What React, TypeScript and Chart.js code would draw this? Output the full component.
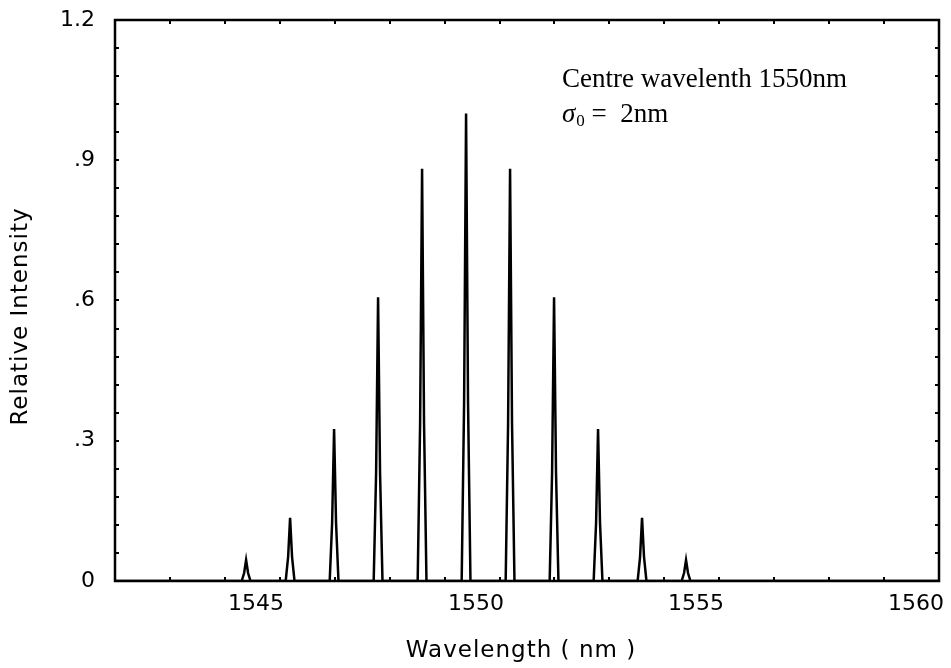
import React, { useEffect, useRef } from "react";
import { Chart, registerables } from "chart.js";

Chart.register(...registerables);

// ---- data ----
const peakWavelengths = [1545, 1546, 1547, 1548, 1549, 1550, 1551, 1552, 1553, 1554, 1555];
const peakIntensities = [0.045, 0.135, 0.325, 0.607, 0.882, 1.0, 0.882, 0.607, 0.325, 0.135, 0.045];
const xTickValues = [1545, 1550, 1555, 1560];
const yTickValues = [0, 0.3, 0.6, 0.9, 1.2];
const yTickLabels = ["0", ".3", ".6", ".9", "1.2"];
const annotationLine1 = "Centre wavelenth 1550nm";
const annotationSigma = "σ";
const annotationSigmaSub = "0";
const annotationLine2Rest = " =  2nm";
const xTitle = "Wavelength ( nm )";
const yTitle = "Relative Intensity";

// axis ranges
const X_MIN = 1542.02;
const X_MAX = 1560.75;
const Y_MIN = 0;
const Y_MAX = 1.2;
const X_MINOR_DIVISIONS = 15;
const Y_MINOR_STEP = 0.06;

// spike profile (shape of each line in nm / fraction of height)
const SPIKE_HALF_BASE = 0.1;
const SPIKE_HALF_MID = 0.045;
const SPIKE_MID_FRAC = 0.38;

// annotation anchor (data coords)
const ANNOT_X = 1552.18;
const ANNOT_Y = 1.057;

const TITLE_FONT = "23px 'DejaVu Sans'";

function buildLine() {
  const pts: { x: number; y: number }[] = [{ x: X_MIN, y: 0 }];
  peakWavelengths.forEach((c, i) => {
    const h = peakIntensities[i];
    pts.push(
      { x: c - SPIKE_HALF_BASE, y: 0 },
      { x: c - SPIKE_HALF_MID, y: SPIKE_MID_FRAC * h },
      { x: c, y: h },
      { x: c + SPIKE_HALF_MID, y: SPIKE_MID_FRAC * h },
      { x: c + SPIKE_HALF_BASE, y: 0 }
    );
  });
  pts.push({ x: X_MAX, y: 0 });
  return pts;
}

const framePlugin = {
  id: "frameTicks",
  afterDatasetsDraw(chart: any) {
    const { ctx, chartArea: a, scales } = chart;
    const x = scales.x;
    const y = scales.y;
    ctx.save();
    ctx.strokeStyle = "#000";
    ctx.lineWidth = 2;
    ctx.beginPath();
    for (let i = 1; i < X_MINOR_DIVISIONS; i++) {
      const v = X_MIN + (i * (X_MAX - X_MIN)) / X_MINOR_DIVISIONS;
      const px = Math.round(x.getPixelForValue(v));
      ctx.moveTo(px, a.top);
      ctx.lineTo(px, a.top + 4);
      ctx.moveTo(px, a.bottom);
      ctx.lineTo(px, a.bottom - 4);
    }
    for (let v = Y_MINOR_STEP; v < Y_MAX - 1e-6; v += Y_MINOR_STEP) {
      const py = Math.round(y.getPixelForValue(v));
      ctx.moveTo(a.left, py);
      ctx.lineTo(a.left + 4, py);
      ctx.moveTo(a.right, py);
      ctx.lineTo(a.right - 4, py);
    }
    ctx.stroke();
    ctx.lineWidth = 2.5;
    ctx.strokeRect(a.left, a.top, a.right - a.left, a.bottom - a.top);

    // annotation
    const ax = x.getPixelForValue(ANNOT_X);
    const ay = y.getPixelForValue(ANNOT_Y);
    ctx.fillStyle = "#000";
    ctx.textAlign = "left";
    ctx.textBaseline = "alphabetic";
    ctx.font = "27px 'Liberation Serif'";
    ctx.fillText(annotationLine1, ax, ay);
    const ay2 = ay + 35;
    ctx.font = "italic 27px 'Liberation Serif'";
    ctx.fillText(annotationSigma, ax, ay2);
    let cx = ax + ctx.measureText(annotationSigma).width + 1;
    ctx.font = "17px 'Liberation Serif'";
    ctx.fillText(annotationSigmaSub, cx, ay2 + 4);
    cx += ctx.measureText(annotationSigmaSub).width;
    ctx.font = "27px 'Liberation Serif'";
    ctx.fillText(annotationLine2Rest, cx, ay2);

    // axis titles
    ctx.font = TITLE_FONT;
    (ctx as any).letterSpacing = "1px";
    ctx.textAlign = "center";
    ctx.textBaseline = "middle";
    ctx.fillText(xTitle, (a.left + a.right) / 2 - 6, 651);
    ctx.translate(21, (a.top + a.bottom) / 2 + 16);
    ctx.rotate(-Math.PI / 2);
    ctx.fillText(yTitle, 0, 0);
    ctx.restore();
  },
};

export default function App() {
  const ref = useRef<HTMLCanvasElement>(null);
  useEffect(() => {
    document.body.style.margin = "0";
    document.body.style.overflow = "hidden";
    const canvas = ref.current!;
    const chart = new Chart(canvas, {
      type: "line",
      data: {
        datasets: [
          {
            data: buildLine(),
            borderColor: "#000",
            borderWidth: 2.5,
            pointRadius: 0,
            tension: 0,
            fill: false,
          },
        ],
      },
      options: {
        responsive: false,
        animation: false,
        devicePixelRatio: 1,
        layout: { padding: { top: 20, right: 12, left: 0, bottom: 0 } },
        plugins: { legend: { display: false }, tooltip: { enabled: false } },
        scales: {
          x: {
            type: "linear",
            min: X_MIN,
            max: X_MAX,
            grid: { display: false, drawTicks: false },
            border: { display: false },
            afterBuildTicks: (s: any) => {
              s.ticks = xTickValues.map((v) => ({ value: v }));
            },
            afterFit: (s: any) => {
              s.height = 87;
              s.paddingLeft = 0;
              s.paddingRight = 0;
            },
            ticks: {
              color: "#000",
              font: { family: "'DejaVu Sans'", size: 22 },
              padding: 10,
              labelOffset: 10,
              maxRotation: 0,
              autoSkip: false,
              callback: (v: any) => String(v),
            },
          },
          y: {
            type: "linear",
            min: Y_MIN,
            max: Y_MAX,
            grid: { display: false, drawTicks: false },
            border: { display: false },
            afterBuildTicks: (s: any) => {
              s.ticks = yTickValues.map((v) => ({ value: v }));
            },
            afterFit: (s: any) => {
              s.width = 115;
              s.paddingTop = 0;
              s.paddingBottom = 0;
            },
            ticks: {
              color: "#000",
              font: { family: "'DejaVu Sans'", size: 22 },
              padding: 20,
              autoSkip: false,
              callback: (v: any) => {
                const i = yTickValues.findIndex((t) => Math.abs(t - v) < 1e-6);
                return i >= 0 ? yTickLabels[i] : "";
              },
            },
          },
        },
      },
      plugins: [framePlugin],
    });
    return () => chart.destroy();
  }, []);
  return <canvas ref={ref} width={951} height={668} style={{ display: "block" }} />;
}
